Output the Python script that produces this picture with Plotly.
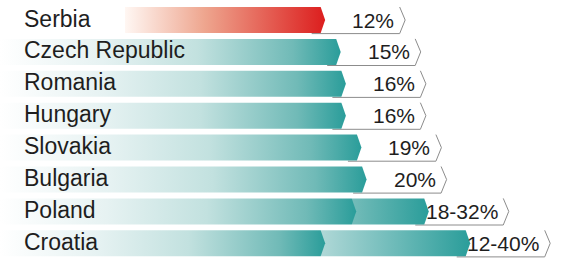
import plotly.graph_objects as go

countries = ["Serbia", "Czech Republic", "Romania", "Hungary", "Slovakia", "Bulgaria", "Poland", "Croatia"]
low = [12, 15, 16, 16, 19, 20, 18, 12]
high = [12, 15, 16, 16, 19, 20, 32, 40]
labels = ["12%", "15%", "16%", "16%", "19%", "20%", "18-32%", "12-40%"]
highlight = ["Serbia"]

W, H = 580, 258
PX_PER_UNIT = 5.18          # horizontal scale (px per percentage point)
ZERO_PX = 263               # pixel position of 0 %
ROW_PX = 31.9               # vertical pitch
FIRST_ROW_PX = 20

xmin = -ZERO_PX / PX_PER_UNIT
xmax = (W - ZERO_PX) / PX_PER_UNIT
ymin = -FIRST_ROW_PX / ROW_PX
ymax = (H - FIRST_ROW_PX) / ROW_PX

half = 13 / ROW_PX
tip = 4.5 / PX_PER_UNIT
chev_off = 80 / PX_PER_UNIT
chev_depth = 5.5 / PX_PER_UNIT
box_drop = 0.6 / ROW_PX

teal = "#2a9d9a"
red = "#dc1e1e"
teal_scale = [[0, "#ffffff"], [0.3, "#e6f2f2"], [0.58, "#c2e1df"], [0.86, "#70bab7"], [1, teal]]
red_scale = [[0, "#fff7f3"], [0.4, "#eea58e"], [1, red]]
range_scales = {"Poland": [[0, "#74bcb9"], [1, teal]], "Croatia": [[0, "#b0d8d7"], [1, teal]]}

fig = go.Figure()


def arrow(x0, x1, yc, scale):
    xs = [x0, x1 - tip, x1, x1 - tip, x0, x0]
    ys = [yc - half, yc - half, yc, yc + half, yc + half, yc - half]
    fig.add_trace(go.Scatter(
        x=xs, y=ys, mode="none", fill="toself",
        fillgradient=dict(type="horizontal", colorscale=scale),
        hoverinfo="skip", showlegend=False))


annotations = []
for i, (c, lo, hi, lab) in enumerate(zip(countries, low, high, labels)):
    yc = i
    chev = hi + chev_off
    # tag outline (bottom + chevron), starting just under the bar end
    fig.add_trace(go.Scatter(
        x=[hi - 3 * tip, chev - chev_depth, chev, chev - chev_depth],
        y=[yc + half + box_drop, yc + half + box_drop, yc, yc - half],
        mode="lines", line=dict(color="#8c8c8c", width=1),
        hoverinfo="skip", showlegend=False))
    if c in highlight:
        arrow(xmin + 125 / PX_PER_UNIT, lo, yc, red_scale)
    else:
        if hi != lo:
            arrow(lo - tip, hi, yc, range_scales[c])
        arrow(xmin, lo, yc, teal_scale)
    annotations.append(dict(
        x=22 / W, xref="paper", y=yc, yref="y", text=c, showarrow=False,
        xanchor="left", yanchor="middle", yshift=1.5,
        font=dict(family="Liberation Sans, Arial", size=23, color="#1e1e1e")))
    annotations.append(dict(
        x=chev, xref="x", y=yc, yref="y", text=lab, showarrow=False,
        xanchor="right", yanchor="middle", xshift=-9,
        font=dict(family="Liberation Sans, Arial", size=21, color="#1e1e1e")))

fig.update_layout(
    width=W, height=H, margin=dict(l=0, r=0, t=0, b=0),
    paper_bgcolor="white", plot_bgcolor="white",
    xaxis=dict(range=[xmin, xmax], visible=False, fixedrange=True),
    yaxis=dict(range=[ymax, ymin], visible=False, fixedrange=True),
    annotations=annotations, showlegend=False)

fig.write_html("out.html", config={"staticPlot": True},
               post_script="document.body.style.margin='0';document.body.style.overflow='hidden';")
